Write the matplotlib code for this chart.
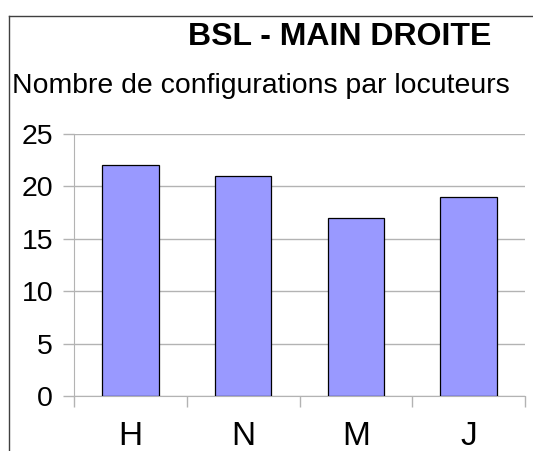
import matplotlib
matplotlib.use('Agg')
import matplotlib.pyplot as plt
from matplotlib.lines import Line2D

plt.rcParams['font.family'] = ['Liberation Sans', 'DejaVu Sans']

# données
locuteurs = ['H', 'N', 'M', 'J']
nb_configs = [22, 21, 17, 19]
y_ticks = [0, 5, 10, 15, 20, 25]

W, H = 533, 451
fig = plt.figure(figsize=(W / 100, H / 100), dpi=100)

# cadre extérieur (coupé à droite et en bas)
fig.add_artist(Line2D([9 / W, 9 / W], [0, 1 - 15.5 / H], color='#404040', lw=1))
fig.add_artist(Line2D([9 / W, 1], [1 - 15.5 / H, 1 - 15.5 / H], color='#404040', lw=1))

ax = fig.add_axes([74 / W, 1 - 396 / H, (525 - 74) / W, (396 - 134) / H])

x = range(len(locuteurs))
ax.bar(x, nb_configs, width=0.5, color='#9999ff', edgecolor='black', linewidth=0.9, zorder=3)

ax.set_xlim(-0.5, len(locuteurs) - 0.5)
ax.set_ylim(0, 25)
ax.set_yticks(y_ticks)
ax.set_yticklabels([str(v) for v in y_ticks], fontsize=20.5)
ax.yaxis.grid(True, color='#b3b3b3', lw=1, zorder=0)

# ticks majeurs entre catégories, labels au centre
ax.set_xticks([i - 0.5 for i in range(len(locuteurs) + 1)])
ax.set_xticklabels([])
ax.set_xticks(list(x), minor=True)
ax.set_xticklabels(locuteurs, minor=True, fontsize=24)
ax.tick_params(axis='x', which='minor', length=0, pad=18)
ax.tick_params(axis='x', which='major', length=8, color='#b3b3b3', width=1)
ax.tick_params(axis='y', length=8, color='#b3b3b3', width=1, pad=7)

for s in ['top', 'right']:
    ax.spines[s].set_visible(False)
for s in ['left', 'bottom']:
    ax.spines[s].set_color('#b3b3b3')

fig.text(340 / W, 1 - 37 / H, 'BSL - MAIN DROITE', fontsize=23, fontweight='bold',
         ha='center', va='center')
fig.text(261 / W, 1 - 86 / H, 'Nombre de configurations par locuteurs', fontsize=20.4,
         ha='center', va='center')

fig.savefig('out.png', dpi=100)
